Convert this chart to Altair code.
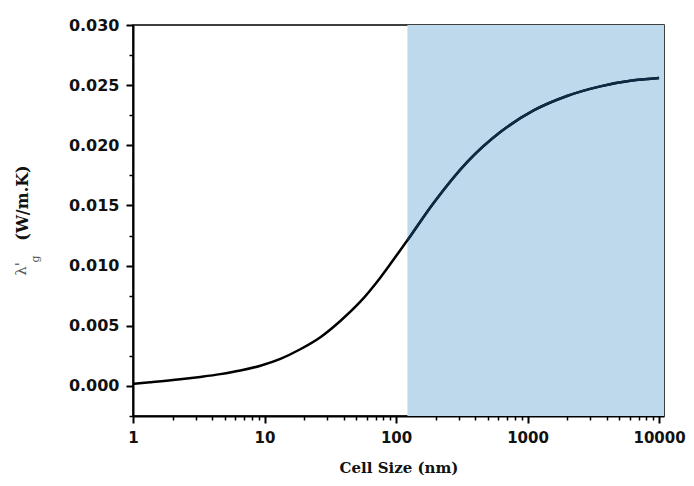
import altair as alt
import pandas as pd

# --- data ---
cell_size_nm = [1, 1.35, 2.29, 3.25, 4.61, 6.55, 9.3, 13.2, 18.7, 26.6, 37.7, 53.5,
                75.9, 108, 122, 193, 347, 621, 1112, 1995, 3575, 6410, 10000]
lambda_g = [0.00017, 0.00030, 0.00055, 0.00075, 0.00098, 0.00128, 0.00168, 0.00225,
            0.00305, 0.00405, 0.0054, 0.0070, 0.0090, 0.0113, 0.0121, 0.0152,
            0.0186, 0.0211, 0.0229, 0.0241, 0.0249, 0.0254, 0.0256]

shade_start = [122]
shade_end = [10900]

x_major = [1, 10, 100, 1000, 10000]
x_minor = [m * 10 ** d for d in range(4) for m in range(2, 10)]
y_major = [0.000, 0.005, 0.010, 0.015, 0.020, 0.025, 0.030]
y_minor = [-0.0025, 0.0025, 0.0075, 0.0125, 0.0175, 0.0225, 0.0275]

X_DOMAIN = [1, 10900]
Y_DOMAIN = [-0.0025, 0.030]

curve = pd.DataFrame({"x": cell_size_nm, "y": lambda_g})
shade = pd.DataFrame({"x": shade_start, "x2": shade_end,
                      "y": [Y_DOMAIN[0]], "y2": [Y_DOMAIN[1]]})

xs = alt.Scale(type="log", domain=X_DOMAIN, nice=False)
ys = alt.Scale(domain=Y_DOMAIN, nice=False, zero=False)

LABEL_FONT = "DejaVu Sans"
TITLE_FONT = "DejaVu Serif"

minor_x_axis = alt.Axis(values=x_minor, labels=False, domain=False, grid=False,
                        tickSize=4, tickWidth=1.5, tickColor="black", title=None,
                        orient="bottom")
minor_y_axis = alt.Axis(values=y_minor, labels=False, domain=False, grid=False,
                        tickSize=4, tickWidth=1.5, tickColor="black", title=None,
                        orient="left")

shade_layer = alt.Chart(shade).mark_rect(color="#bfd9ec").encode(
    x=alt.X("x:Q", scale=xs, axis=minor_x_axis),
    x2="x2",
    y=alt.Y("y:Q", scale=ys, axis=minor_y_axis),
    y2="y2",
)

major_x_axis = alt.Axis(values=x_major, format="d", grid=False, tickSize=7, tickWidth=2,
                        tickColor="black", domainColor="black", domainWidth=2,
                        labelFont=LABEL_FONT, labelFontSize=15, labelFontWeight="bold",
                        labelColor="#111", labelPadding=7, labelFlush=False,
                        labelOverlap=False, title="Cell Size (nm)", titleFont=TITLE_FONT,
                        titleFontSize=15, titleFontWeight="bold", titleColor="#111",
                        titlePadding=15, orient="bottom")
major_y_axis = alt.Axis(values=y_major, format=".3f", grid=False, tickSize=7, tickWidth=2,
                        tickColor="black", domainColor="black", domainWidth=2,
                        labelFont=LABEL_FONT, labelFontSize=16, labelFontWeight="bold",
                        labelColor="#111", labelPadding=7, labelFlush=False,
                        labelOverlap=False, title=None, orient="left")

line_layer = alt.Chart(curve).mark_line(color="black", strokeWidth=2.5,
                                        interpolate="monotone").encode(
    x=alt.X("x:Q", scale=xs, axis=major_x_axis),
    y=alt.Y("y:Q", scale=ys, axis=major_y_axis),
)

line_shaded = alt.Chart(curve).mark_line(color="#0d2b45", strokeWidth=2.5,
                                         interpolate="monotone").transform_filter(
    alt.datum.x >= shade_start[0]
).encode(
    x=alt.X("x:Q", scale=xs, axis=None),
    y=alt.Y("y:Q", scale=ys, axis=None),
)

one = alt.Data(values=[{}])
t_lambda = alt.Chart(one).mark_text(text="λ'", font=TITLE_FONT, fontSize=15, angle=270,
                                    color="#555", align="center", baseline="middle").encode(
    x=alt.value(-112), y=alt.value(244))
t_sub = alt.Chart(one).mark_text(text="g", font=TITLE_FONT, fontSize=11, angle=270,
                                 color="#555", align="center", baseline="middle").encode(
    x=alt.value(-97), y=alt.value(234))
t_unit = alt.Chart(one).mark_text(text="(W/m.K)", font=TITLE_FONT, fontSize=16, angle=270,
                                  fontWeight="bold", color="#111", align="center",
                                  baseline="middle").encode(
    x=alt.value(-110), y=alt.value(178))

chart = alt.layer(shade_layer, line_layer, line_shaded, t_lambda, t_sub, t_unit).resolve_axis(
    x="independent", y="independent"
).properties(
    width=531, height=391,
    autosize=alt.AutoSizeParams(type="none"),
    padding={"left": 125, "top": 17, "right": 22, "bottom": 62},
    background="white",
).configure_view(stroke="black", strokeWidth=1.5)

chart.save("out.html", embed_options={"renderer": "svg", "actions": False})
